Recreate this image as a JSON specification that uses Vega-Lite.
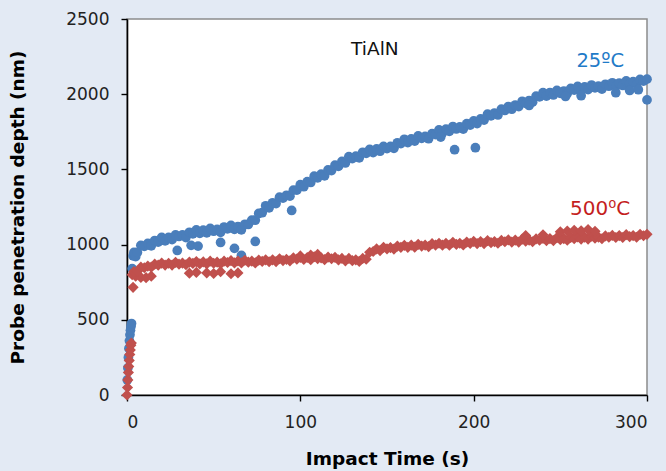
{
  "$schema": "https://vega.github.io/schema/vega-lite/v6.json",
  "width": 520,
  "height": 376,
  "autosize": {"type": "none"},
  "padding": {"left": 127, "top": 19, "right": 19, "bottom": 76},
  "background": "#e3eaf4",
  "config": {
    "view": {"fill": "white", "stroke": "#8c8c8c", "strokeWidth": 1.5},
    "font": "DejaVu Sans",
    "axis": {"grid": false, "domainColor": "#000000", "domainWidth": 1.6, "tickColor": "#000000", "tickWidth": 1.4, "tickSize": 6, "labelFont": "DejaVu Sans", "labelFontSize": 17, "labelColor": "#222222", "titleFont": "DejaVu Sans", "titleFontSize": 18.5, "titleFontWeight": "bold", "titleColor": "#000000"}
  },
  "layer": [
    {
      "data": {"values": [
        {"t":0.2,"d":100,"s":"25"},{"t":0.5,"d":180,"s":"25"},{"t":0.8,"d":250,"s":"25"},{"t":1.1,"d":310,"s":"25"},{"t":1.4,"d":360,"s":"25"},{"t":1.7,"d":400,"s":"25"},{"t":2.0,"d":430,"s":"25"},{"t":2.3,"d":455,"s":"25"},{"t":2.6,"d":475,"s":"25"},
        {"t":3,"d":840,"s":"25"},{"t":3.5,"d":925,"s":"25"},{"t":5,"d":920,"s":"25"},
        {"t":4,"d":948,"s":"25"},{"t":6,"d":948,"s":"25"},{"t":8,"d":995,"s":"25"},{"t":10,"d":989,"s":"25"},{"t":12,"d":1008,"s":"25"},{"t":14,"d":992,"s":"25"},{"t":16,"d":1027,"s":"25"},{"t":18,"d":1017,"s":"25"},{"t":20,"d":1048,"s":"25"},{"t":22,"d":1025,"s":"25"},
        {"t":24,"d":1048,"s":"25"},{"t":26,"d":1033,"s":"25"},{"t":28,"d":1065,"s":"25"},{"t":30,"d":1054,"s":"25"},{"t":32,"d":1065,"s":"25"},{"t":34,"d":1047,"s":"25"},{"t":36,"d":1082,"s":"25"},{"t":38,"d":1072,"s":"25"},{"t":40,"d":1098,"s":"25"},{"t":42,"d":1075,"s":"25"},
        {"t":44,"d":1096,"s":"25"},{"t":46,"d":1078,"s":"25"},{"t":48,"d":1108,"s":"25"},{"t":50,"d":1089,"s":"25"},{"t":52,"d":1101,"s":"25"},{"t":54,"d":1082,"s":"25"},{"t":56,"d":1117,"s":"25"},{"t":58,"d":1105,"s":"25"},{"t":60,"d":1128,"s":"25"},{"t":62,"d":1102,"s":"25"},
        {"t":64,"d":1120,"s":"25"},{"t":66,"d":1098,"s":"25"},{"t":68,"d":1135,"s":"25"},{"t":70,"d":1134,"s":"25"},{"t":72,"d":1163,"s":"25"},{"t":74,"d":1162,"s":"25"},{"t":76,"d":1207,"s":"25"},{"t":78,"d":1212,"s":"25"},{"t":80,"d":1258,"s":"25"},{"t":82,"d":1245,"s":"25"},
        {"t":84,"d":1278,"s":"25"},{"t":86,"d":1273,"s":"25"},{"t":88,"d":1315,"s":"25"},{"t":90,"d":1309,"s":"25"},{"t":92,"d":1328,"s":"25"},{"t":94,"d":1322,"s":"25"},{"t":96,"d":1362,"s":"25"},{"t":98,"d":1362,"s":"25"},{"t":100,"d":1398,"s":"25"},{"t":102,"d":1385,"s":"25"},
        {"t":104,"d":1418,"s":"25"},{"t":106,"d":1413,"s":"25"},{"t":108,"d":1455,"s":"25"},{"t":110,"d":1444,"s":"25"},{"t":112,"d":1468,"s":"25"},{"t":114,"d":1457,"s":"25"},{"t":116,"d":1497,"s":"25"},{"t":118,"d":1492,"s":"25"},{"t":120,"d":1528,"s":"25"},{"t":122,"d":1520,"s":"25"},
        {"t":124,"d":1553,"s":"25"},{"t":126,"d":1543,"s":"25"},{"t":128,"d":1585,"s":"25"},{"t":130,"d":1572,"s":"25"},{"t":132,"d":1588,"s":"25"},{"t":134,"d":1577,"s":"25"},{"t":136,"d":1614,"s":"25"},{"t":138,"d":1607,"s":"25"},{"t":140,"d":1633,"s":"25"},{"t":142,"d":1612,"s":"25"},
        {"t":144,"d":1636,"s":"25"},{"t":146,"d":1621,"s":"25"},{"t":148,"d":1653,"s":"25"},{"t":150,"d":1638,"s":"25"},{"t":152,"d":1653,"s":"25"},{"t":154,"d":1640,"s":"25"},{"t":156,"d":1677,"s":"25"},{"t":158,"d":1672,"s":"25"},{"t":160,"d":1700,"s":"25"},{"t":162,"d":1678,"s":"25"},
        {"t":164,"d":1703,"s":"25"},{"t":166,"d":1688,"s":"25"},{"t":168,"d":1723,"s":"25"},{"t":170,"d":1706,"s":"25"},{"t":172,"d":1719,"s":"25"},{"t":174,"d":1704,"s":"25"},{"t":176,"d":1738,"s":"25"},{"t":178,"d":1732,"s":"25"},{"t":180,"d":1763,"s":"25"},{"t":182,"d":1742,"s":"25"},
        {"t":184,"d":1768,"s":"25"},{"t":186,"d":1753,"s":"25"},{"t":188,"d":1785,"s":"25"},{"t":190,"d":1769,"s":"25"},{"t":192,"d":1783,"s":"25"},{"t":194,"d":1768,"s":"25"},{"t":196,"d":1804,"s":"25"},{"t":198,"d":1795,"s":"25"},{"t":200,"d":1823,"s":"25"},{"t":202,"d":1805,"s":"25"},
        {"t":204,"d":1836,"s":"25"},{"t":206,"d":1828,"s":"25"},{"t":208,"d":1867,"s":"25"},{"t":210,"d":1856,"s":"25"},{"t":212,"d":1875,"s":"25"},{"t":214,"d":1862,"s":"25"},{"t":216,"d":1900,"s":"25"},{"t":218,"d":1892,"s":"25"},{"t":220,"d":1918,"s":"25"},{"t":222,"d":1900,"s":"25"},
        {"t":224,"d":1928,"s":"25"},{"t":226,"d":1918,"s":"25"},{"t":228,"d":1953,"s":"25"},{"t":230,"d":1939,"s":"25"},{"t":232,"d":1958,"s":"25"},{"t":234,"d":1947,"s":"25"},{"t":236,"d":1987,"s":"25"},{"t":238,"d":1982,"s":"25"},{"t":240,"d":2010,"s":"25"},{"t":242,"d":1988,"s":"25"},
        {"t":244,"d":2011,"s":"25"},{"t":246,"d":1995,"s":"25"},{"t":248,"d":2025,"s":"25"},{"t":250,"d":2006,"s":"25"},{"t":252,"d":2021,"s":"25"},{"t":254,"d":2004,"s":"25"},{"t":256,"d":2038,"s":"25"},{"t":258,"d":2027,"s":"25"},{"t":260,"d":2052,"s":"25"},{"t":262,"d":2027,"s":"25"},
        {"t":264,"d":2048,"s":"25"},{"t":266,"d":2031,"s":"25"},{"t":268,"d":2061,"s":"25"},{"t":270,"d":2042,"s":"25"},{"t":272,"d":2053,"s":"25"},{"t":274,"d":2034,"s":"25"},{"t":276,"d":2066,"s":"25"},{"t":278,"d":2053,"s":"25"},{"t":280,"d":2076,"s":"25"},{"t":282,"d":2052,"s":"25"},
        {"t":284,"d":2074,"s":"25"},{"t":286,"d":2058,"s":"25"},{"t":288,"d":2088,"s":"25"},{"t":290,"d":2070,"s":"25"},{"t":292,"d":2083,"s":"25"},{"t":294,"d":2065,"s":"25"},{"t":296,"d":2098,"s":"25"},{"t":298,"d":2087,"s":"25"},{"t":300,"d":2100,"s":"25"},
        {"t":29,"d":961,"s":"25"},{"t":37,"d":995,"s":"25"},{"t":41,"d":990,"s":"25"},{"t":54,"d":1014,"s":"25"},{"t":62,"d":975,"s":"25"},{"t":66,"d":928,"s":"25"},{"t":74,"d":1021,"s":"25"},{"t":95,"d":1227,"s":"25"},{"t":189,"d":1631,"s":"25"},{"t":201,"d":1644,"s":"25"},{"t":300,"d":1962,"s":"25"},
        {"t":181,"d":1715,"s":"25"},{"t":232,"d":1925,"s":"25"},{"t":253,"d":1985,"s":"25"},{"t":262,"d":1990,"s":"25"},{"t":282,"d":2010,"s":"25"},{"t":290,"d":2025,"s":"25"},{"t":295,"d":2030,"s":"25"},
        {"t":0,"d":0,"s":"500"},{"t":0.3,"d":50,"s":"500"},{"t":0.5,"d":100,"s":"500"},{"t":0.8,"d":150,"s":"500"},{"t":1.0,"d":190,"s":"500"},{"t":1.3,"d":230,"s":"500"},{"t":1.6,"d":270,"s":"500"},{"t":1.9,"d":300,"s":"500"},{"t":2.2,"d":330,"s":"500"},{"t":2.5,"d":345,"s":"500"},
        {"t":3,"d":800,"s":"500"},{"t":3.5,"d":716,"s":"500"},{"t":5,"d":790,"s":"500"},{"t":8,"d":782,"s":"500"},{"t":11,"d":780,"s":"500"},{"t":14,"d":790,"s":"500"},{"t":36,"d":810,"s":"500"},{"t":40,"d":815,"s":"500"},{"t":46,"d":812,"s":"500"},{"t":50,"d":808,"s":"500"},{"t":54,"d":820,"s":"500"},{"t":60,"d":806,"s":"500"},{"t":64,"d":812,"s":"500"},
        {"t":100,"d":925,"s":"500"},{"t":106,"d":930,"s":"500"},{"t":110,"d":935,"s":"500"},
        {"t":4,"d":821,"s":"500"},{"t":6,"d":822,"s":"500"},{"t":8,"d":850,"s":"500"},{"t":10,"d":846,"s":"500"},{"t":12,"d":857,"s":"500"},{"t":14,"d":850,"s":"500"},{"t":16,"d":870,"s":"500"},{"t":18,"d":863,"s":"500"},{"t":20,"d":877,"s":"500"},{"t":22,"d":864,"s":"500"},
        {"t":24,"d":876,"s":"500"},{"t":26,"d":864,"s":"500"},{"t":28,"d":882,"s":"500"},{"t":30,"d":870,"s":"500"},{"t":32,"d":877,"s":"500"},{"t":34,"d":866,"s":"500"},{"t":36,"d":884,"s":"500"},{"t":38,"d":875,"s":"500"},{"t":40,"d":887,"s":"500"},{"t":42,"d":872,"s":"500"},
        {"t":44,"d":885,"s":"500"},{"t":46,"d":872,"s":"500"},{"t":48,"d":890,"s":"500"},{"t":50,"d":876,"s":"500"},{"t":52,"d":883,"s":"500"},{"t":54,"d":872,"s":"500"},{"t":56,"d":890,"s":"500"},{"t":58,"d":881,"s":"500"},{"t":60,"d":893,"s":"500"},{"t":62,"d":878,"s":"500"},
        {"t":64,"d":891,"s":"500"},{"t":66,"d":878,"s":"500"},{"t":68,"d":896,"s":"500"},{"t":70,"d":883,"s":"500"},{"t":72,"d":890,"s":"500"},{"t":74,"d":878,"s":"500"},{"t":76,"d":897,"s":"500"},{"t":78,"d":888,"s":"500"},{"t":80,"d":899,"s":"500"},{"t":82,"d":886,"s":"500"},
        {"t":84,"d":899,"s":"500"},{"t":86,"d":887,"s":"500"},{"t":88,"d":906,"s":"500"},{"t":90,"d":894,"s":"500"},{"t":92,"d":902,"s":"500"},{"t":94,"d":892,"s":"500"},{"t":96,"d":912,"s":"500"},{"t":98,"d":903,"s":"500"},{"t":100,"d":915,"s":"500"},{"t":102,"d":901,"s":"500"},
        {"t":104,"d":914,"s":"500"},{"t":106,"d":900,"s":"500"},{"t":108,"d":919,"s":"500"},{"t":110,"d":906,"s":"500"},{"t":112,"d":912,"s":"500"},{"t":114,"d":900,"s":"500"},{"t":116,"d":917,"s":"500"},{"t":118,"d":906,"s":"500"},{"t":120,"d":915,"s":"500"},{"t":122,"d":898,"s":"500"},
        {"t":124,"d":908,"s":"500"},{"t":126,"d":892,"s":"500"},{"t":128,"d":908,"s":"500"},{"t":130,"d":893,"s":"500"},{"t":132,"d":899,"s":"500"},{"t":134,"d":888,"s":"500"},{"t":136,"d":908,"s":"500"},{"t":138,"d":903,"s":"500"},{"t":140,"d":949,"s":"500"},{"t":142,"d":954,"s":"500"},
        {"t":144,"d":971,"s":"500"},{"t":146,"d":960,"s":"500"},{"t":148,"d":982,"s":"500"},{"t":150,"d":971,"s":"500"},{"t":152,"d":980,"s":"500"},{"t":154,"d":970,"s":"500"},{"t":156,"d":990,"s":"500"},{"t":158,"d":982,"s":"500"},{"t":160,"d":995,"s":"500"},{"t":162,"d":982,"s":"500"},
        {"t":164,"d":996,"s":"500"},{"t":166,"d":983,"s":"500"},{"t":168,"d":1002,"s":"500"},{"t":170,"d":990,"s":"500"},{"t":172,"d":997,"s":"500"},{"t":174,"d":986,"s":"500"},{"t":176,"d":1006,"s":"500"},{"t":178,"d":997,"s":"500"},{"t":180,"d":1009,"s":"500"},{"t":182,"d":996,"s":"500"},
        {"t":184,"d":1009,"s":"500"},{"t":186,"d":996,"s":"500"},{"t":188,"d":1015,"s":"500"},{"t":190,"d":1002,"s":"500"},{"t":192,"d":1009,"s":"500"},{"t":194,"d":998,"s":"500"},{"t":196,"d":1017,"s":"500"},{"t":198,"d":1008,"s":"500"},{"t":200,"d":1021,"s":"500"},{"t":202,"d":1007,"s":"500"},
        {"t":204,"d":1020,"s":"500"},{"t":206,"d":1007,"s":"500"},{"t":208,"d":1026,"s":"500"},{"t":210,"d":1013,"s":"500"},{"t":212,"d":1020,"s":"500"},{"t":214,"d":1009,"s":"500"},{"t":216,"d":1028,"s":"500"},{"t":218,"d":1019,"s":"500"},{"t":220,"d":1031,"s":"500"},{"t":222,"d":1017,"s":"500"},
        {"t":224,"d":1030,"s":"500"},{"t":226,"d":1017,"s":"500"},{"t":228,"d":1036,"s":"500"},{"t":230,"d":1023,"s":"500"},{"t":232,"d":1030,"s":"500"},{"t":234,"d":1019,"s":"500"},{"t":236,"d":1038,"s":"500"},{"t":238,"d":1029,"s":"500"},{"t":240,"d":1041,"s":"500"},{"t":242,"d":1027,"s":"500"},
        {"t":244,"d":1040,"s":"500"},{"t":246,"d":1027,"s":"500"},{"t":248,"d":1046,"s":"500"},{"t":250,"d":1033,"s":"500"},{"t":252,"d":1040,"s":"500"},{"t":254,"d":1029,"s":"500"},{"t":256,"d":1048,"s":"500"},{"t":258,"d":1039,"s":"500"},{"t":260,"d":1051,"s":"500"},{"t":262,"d":1037,"s":"500"},
        {"t":264,"d":1050,"s":"500"},{"t":266,"d":1037,"s":"500"},{"t":268,"d":1056,"s":"500"},{"t":270,"d":1043,"s":"500"},{"t":272,"d":1050,"s":"500"},{"t":274,"d":1039,"s":"500"},{"t":276,"d":1058,"s":"500"},{"t":278,"d":1049,"s":"500"},{"t":280,"d":1061,"s":"500"},{"t":282,"d":1047,"s":"500"},
        {"t":284,"d":1060,"s":"500"},{"t":286,"d":1047,"s":"500"},{"t":288,"d":1066,"s":"500"},{"t":290,"d":1053,"s":"500"},{"t":292,"d":1060,"s":"500"},{"t":294,"d":1049,"s":"500"},{"t":296,"d":1068,"s":"500"},{"t":298,"d":1059,"s":"500"},{"t":300,"d":1068,"s":"500"},
        {"t":230,"d":1060,"s":"500"},{"t":240,"d":1065,"s":"500"},{"t":250,"d":1085,"s":"500"},{"t":254,"d":1090,"s":"500"},{"t":258,"d":1095,"s":"500"},{"t":262,"d":1092,"s":"500"},{"t":266,"d":1100,"s":"500"},{"t":270,"d":1088,"s":"500"}
      ]},
      "mark": {"type": "point", "filled": true, "opacity": 1, "clip": false},
      "encoding": {
        "x": {"field": "t", "type": "quantitative", "scale": {"domain": [0, 300], "nice": false}, "axis": {"values": [0, 100, 200, 300], "format": "d", "title": "Impact Time (s)", "labelPadding": 13, "titlePadding": 19}},
        "y": {"field": "d", "type": "quantitative", "scale": {"domain": [0, 2500], "nice": false}, "axis": {"values": [0, 500, 1000, 1500, 2000, 2500], "format": "d", "title": "Probe penetration depth (nm)", "labelPadding": 12, "titlePadding": 38}},
        "color": {"field": "s", "type": "nominal", "scale": {"domain": ["25", "500"], "range": ["#4a7ebb", "#c0504d"]}, "legend": null},
        "shape": {"field": "s", "type": "nominal", "scale": {"domain": ["25", "500"], "range": ["circle", "diamond"]}, "legend": null},
        "size": {"field": "s", "type": "nominal", "scale": {"domain": ["25", "500"], "range": [95, 125]}, "legend": null}
      }
    },
    {
      "data": {"values": [{"t": 143, "d": 2300, "label": "TiAlN"}]},
      "mark": {"type": "text", "fontSize": 18.5, "color": "#111111", "font": "DejaVu Sans"},
      "encoding": {"x": {"field": "t", "type": "quantitative"}, "y": {"field": "d", "type": "quantitative"}, "text": {"field": "label"}}
    },
    {
      "data": {"values": [{"t": 273, "d": 2221, "label": "25ºC"}]},
      "mark": {"type": "text", "fontSize": 19.5, "color": "#1f7bc8", "font": "DejaVu Sans"},
      "encoding": {"x": {"field": "t", "type": "quantitative"}, "y": {"field": "d", "type": "quantitative"}, "text": {"field": "label"}}
    },
    {
      "data": {"values": [{"t": 273, "d": 1240, "label": "500⁰C"}]},
      "mark": {"type": "text", "fontSize": 20, "color": "#c41e1e", "font": "DejaVu Sans"},
      "encoding": {"x": {"field": "t", "type": "quantitative"}, "y": {"field": "d", "type": "quantitative"}, "text": {"field": "label"}}
    }
  ]
}
